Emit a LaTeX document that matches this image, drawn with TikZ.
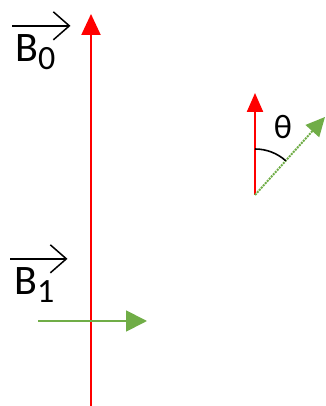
\documentclass[tikz,border=0pt]{standalone}
\usepackage{fontspec}
\setmainfont{Carlito}
\usetikzlibrary{arrows.meta, calc}
\definecolor{fieldred}{RGB}{255,0,0}
\definecolor{spingreen}{RGB}{112,173,71}
\tikzset{>=latex}
% lowered index of a vector name
\newcommand{\lowidx}[1]{\raisebox{-8pt}{\fontsize{34}{36}\selectfont #1}}
\tikzset{
  bfield/.style={fieldred, line width=2.2pt, -{Triangle[length=21pt, width=19pt]}},
  rfield/.style={spingreen, line width=1.8pt, -{Triangle[length=21pt, width=21pt]}},
  smallb/.style={fieldred, line width=2.2pt, -{Triangle[length=19pt, width=16pt]}},
  smallrf/.style={spingreen, line width=2pt, dash pattern=on 2pt off 1pt, -{Triangle[length=19pt, width=18pt]}},
  vecbar/.style={black, line width=1.5pt, -{Straight Barb[length=16pt, width=28pt]}},
  veclabel/.style={font=\fontsize{42}{46}\selectfont, inner sep=0pt, anchor=base west}
}

\begin{document}
\begin{tikzpicture}[x=1pt, y=1pt]
  \useasboundingbox (0,0) rectangle (325,406);
  % static field and rf field
  \coordinate (b0foot) at (91,0);
  \coordinate (b0tip) at (91,392);
  \draw[bfield] (b0foot) -- (b0tip);
  \coordinate (b1tail) at (38,85);
  \coordinate (b1tip) at (147,85);
  \draw[rfield] (b1tail) -- (b1tip);
  % labels with vector arrows
  \node[veclabel] (lblB0) at (15,344) {B\lowidx{0}};
  \draw[vecbar] ($(lblB0.north west)+(-3,9)$) -- ($(lblB0.north east)+(15,9)$);
  \node[veclabel] (lblB1) at (14,111) {B\lowidx{1}};
  \draw[vecbar] ($(lblB1.north west)+(-4,9)$) -- ($(lblB1.north east)+(13,9)$);
  % tilted magnetisation
  \coordinate (pivot) at (255,211);
  \coordinate (mtip) at (255,313);
  \coordinate (spintip) at (325,289);
  \draw[smallb] (pivot) -- (mtip);
  \draw[smallrf] (pivot) -- (spintip);
  \draw[black, line width=1.6pt] ($(pivot)+(0,46)$) arc[start angle=90, end angle=48, radius=46];
  \node[font=\fontsize{34}{36}\selectfont, inner sep=0pt] (theta) at (283,279) {θ};
\end{tikzpicture}
\end{document}
